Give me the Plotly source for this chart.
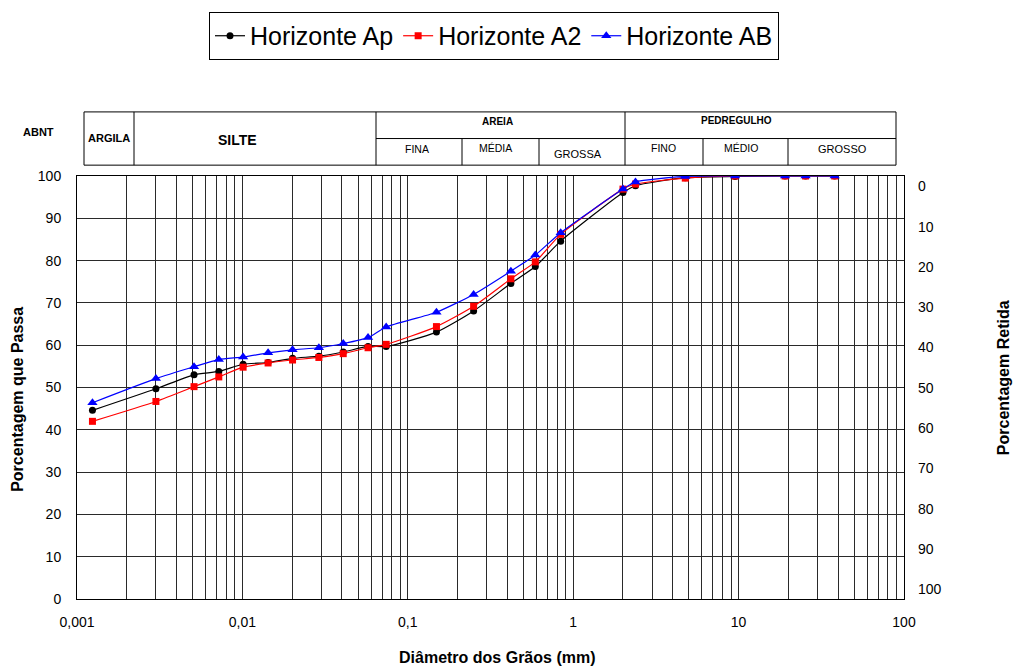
import plotly.graph_objects as go

# ---------------- data ----------------
diametro_mm = [0.00124, 0.0030, 0.0051, 0.0072, 0.0101, 0.0143, 0.0201, 0.0290,
               0.0407, 0.0575, 0.074, 0.149, 0.25, 0.42, 0.59, 0.84, 2.0, 2.38,
               4.76, 9.52, 19.1, 25.4, 38.1]
passa_ap = [44.6, 49.7, 53.0, 53.8, 55.5, 55.9, 56.9, 57.4, 58.4, 59.7, 59.7, 63.1,
            68.1, 74.6, 78.6, 84.6, 96.1, 97.7, 99.6, 99.9, 100, 100, 100]
passa_a2 = [42.0, 46.7, 50.2, 52.5, 54.8, 55.8, 56.5, 57.1, 58.0, 59.4, 60.2, 64.4,
            69.2, 75.7, 79.7, 86.2, 96.9, 98.1, 99.5, 100, 100, 100, 100]
passa_ab = [46.4, 52.1, 54.9, 56.6, 57.2, 58.2, 58.9, 59.4, 60.4, 61.8, 64.3, 67.8,
            72.0, 77.5, 81.3, 86.6, 96.9, 98.6, 99.9, 100, 100, 100, 100]

x_tickvals = [0.001, 0.01, 0.1, 1, 10, 100]
x_ticktext = ["0,001", "0,01", "0,1", "1", "10", "100"]
x_minor = [m * 10 ** e for e in range(-3, 2) for m in range(2, 10)]
y_ticks = list(range(0, 101, 10))

FONT = "Arial, Liberation Sans, sans-serif"
GRID = "#2a2a2a"

# plot-area pixel geometry (for header table placement)
L, R, T, B = 77, 904, 170, 599
def px(x):
    return (x - L) / (R - L)
def py(y):
    return (B - y) / (B - T)

fig = go.Figure()
fig.add_trace(go.Scatter(x=diametro_mm, y=passa_ap, name="Horizonte Ap",
                         mode="lines+markers",
                         line=dict(color="black", width=1.2, shape="spline", smoothing=0.6),
                         marker=dict(symbol="circle", size=7, color="black")))
fig.add_trace(go.Scatter(x=diametro_mm, y=passa_a2, name="Horizonte A2",
                         mode="lines+markers",
                         line=dict(color="#ff0000", width=1.2, shape="spline", smoothing=0.6),
                         marker=dict(symbol="square", size=7, color="#ff0000")))
fig.add_trace(go.Scatter(x=diametro_mm, y=passa_ab, name="Horizonte AB",
                         mode="lines+markers",
                         line=dict(color="#0000ff", width=1.2, shape="spline", smoothing=0.6),
                         marker=dict(symbol="triangle-up", size=9, color="#0000ff")))
# percentage retained (100 - passing) on the right axis, invisible: only activates the axis
fig.add_trace(go.Scatter(x=diametro_mm, y=[100 - v for v in passa_ap], yaxis="y2",
                         mode="markers", marker=dict(opacity=0), showlegend=False,
                         hoverinfo="skip"))

fig.update_layout(
    width=1013, height=672,
    margin=dict(l=L, r=1013 - R, t=T, b=672 - B),
    paper_bgcolor="white", plot_bgcolor="white",
    font=dict(family=FONT, size=14, color="black"),
    showlegend=True,
    legend=dict(orientation="h", x=px(494), y=py(28), xanchor="center", yanchor="middle",
                bordercolor="black", borderwidth=1, bgcolor="white",
                font=dict(size=25, family=FONT), itemwidth=30, tracegroupgap=0),
    xaxis=dict(type="log", range=[-3, 2], tickmode="array", tickvals=x_tickvals,
               ticktext=x_ticktext, showgrid=True, gridcolor=GRID, gridwidth=1,
               minor=dict(tickmode="array", tickvals=x_minor, showgrid=True,
                          gridcolor=GRID, gridwidth=1),
               showline=True, linecolor="black", linewidth=1, mirror=True,
               ticks="", zeroline=False, tickfont=dict(size=14), ticklabelstandoff=10),
    yaxis=dict(range=[0, 100], tickvals=y_ticks, showgrid=True, gridcolor=GRID,
               gridwidth=1, showline=True, linecolor="black", linewidth=1,
               mirror=True, ticks="", zeroline=False, tickfont=dict(size=14),
               ticklabelstandoff=12),
    yaxis2=dict(overlaying="y", side="right", range=[102.45, -2.62],
                tickvals=y_ticks, showgrid=False, showline=False, ticks="",
                zeroline=False, tickfont=dict(size=14), ticklabelstandoff=13),
)

annotations = [
    dict(text="<b>Porcentagem que Passa</b>", x=px(18), y=py(397), textangle=-90,
         font=dict(size=16)),
    dict(text="<b>Porcentagem Retida</b>", x=px(1003), y=py(375), textangle=-90,
         font=dict(size=16)),
    dict(text="<b>Diâmetro dos Grãos (mm)</b>", x=px(497), y=py(658),
         font=dict(size=16)),
    dict(text="<b>ABNT</b>", x=px(38), y=py(125), font=dict(size=11)),
    dict(text="<b>ARGILA</b>", x=px(109), y=py(131), font=dict(size=11)),
    dict(text="<b>SILTE</b>", x=px(237), y=py(133), font=dict(size=14)),
    dict(text="<b>AREIA</b>", x=px(497), y=py(115), font=dict(size=10)),
    dict(text="<b>PEDREGULHO</b>", x=px(736), y=py(114), font=dict(size=10)),
    dict(text="FINA", x=px(417), y=py(143), font=dict(size=10.5)),
    dict(text="MÉDIA", x=px(495), y=py(142), font=dict(size=10.5)),
    dict(text="GROSSA", x=px(578), y=py(148), font=dict(size=11)),
    dict(text="FINO", x=px(663), y=py(142), font=dict(size=10.5)),
    dict(text="MÉDIO", x=px(741), y=py(142), font=dict(size=10.5)),
    dict(text="GROSSO", x=px(842), y=py(143), font=dict(size=11)),
]
for a in annotations:
    a.update(xref="paper", yref="paper", showarrow=False, xanchor="center",
             yanchor="middle")
fig.update_layout(annotations=annotations)

line = dict(color="black", width=1)
shapes = [
    dict(type="rect", x0=px(84), x1=px(896), y0=py(159), y1=py(105), line=line),
    dict(type="line", x0=px(134), x1=px(134), y0=py(159), y1=py(105), line=line),
    dict(type="line", x0=px(376), x1=px(376), y0=py(159), y1=py(105), line=line),
    dict(type="line", x0=px(625), x1=px(625), y0=py(159), y1=py(105), line=line),
    dict(type="line", x0=px(376), x1=px(896), y0=py(132), y1=py(132), line=line),
    dict(type="line", x0=px(462), x1=px(462), y0=py(159), y1=py(132), line=line),
    dict(type="line", x0=px(539), x1=px(539), y0=py(159), y1=py(132), line=line),
    dict(type="line", x0=px(703), x1=px(703), y0=py(159), y1=py(132), line=line),
    dict(type="line", x0=px(788), x1=px(788), y0=py(159), y1=py(132), line=line),
]
for s in shapes:
    s.update(xref="paper", yref="paper")
fig.update_layout(shapes=shapes)

fig.write_html("out.html", config={"displayModeBar": False},
               post_script="document.body.style.margin='0';document.body.style.overflow='hidden';")
